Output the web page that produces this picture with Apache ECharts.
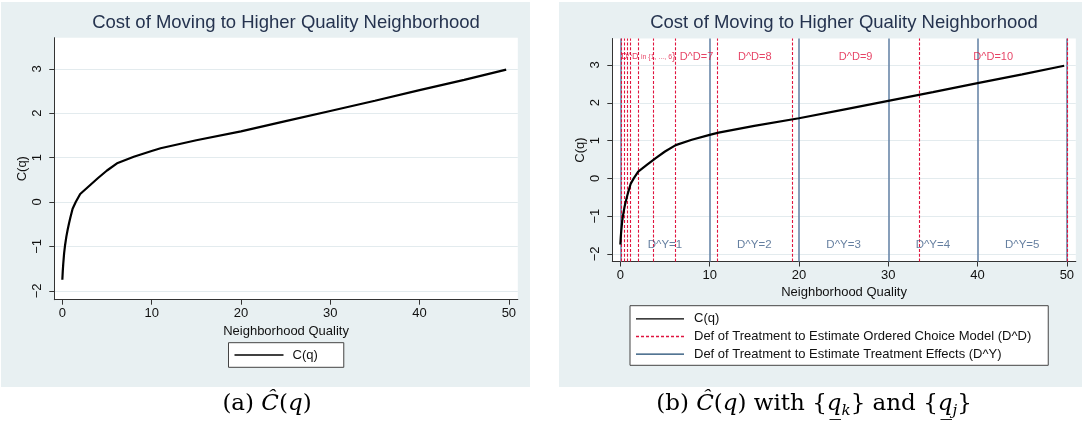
<!DOCTYPE html>
<html>
<head>
<meta charset="utf-8">
<script src="https://cdn.jsdelivr.net/npm/echarts@6/dist/echarts.min.js"></script>
<style>
  html, body { margin: 0; padding: 0; background: #ffffff; }
  #chart { width: 1088px; height: 436px; }
</style>
</head>
<body>
<div id="chart"></div>
<script>
// Estimated moving cost C(q) over neighborhood quality q
const qualityPoints = [0, 0.05, 0.1, 0.2, 0.3, 0.45, 0.6, 0.75, 0.9, 1.15, 1.5, 2.0, 3.0, 4.0, 5.0, 6.2, 8.0, 10.0, 11.0, 15.0, 20.0, 25.0, 30.0, 35.0, 40.0, 45.0, 49.7];
const costValues    = [-1.75, -1.55, -1.4, -1.15, -0.98, -0.78, -0.62, -0.48, -0.35, -0.15, 0.0, 0.18, 0.36, 0.54, 0.71, 0.88, 1.02, 1.15, 1.21, 1.39, 1.59, 1.82, 2.05, 2.28, 2.52, 2.75, 2.98];

// Cut points: ordered choice treatment (D^D) and treatment effect groups (D^Y)
const ddCuts = [0.15, 0.45, 0.75, 1.15, 1.95, 3.7, 6.15, 10.9, 19.2, 33.5, 50];
const dyCuts = [0, 10, 20, 30, 40, 50];
// each D^D label spans ddCuts[from]..ddCuts[to]
const ddLabelSpans = [[0, 6], [6, 7], [7, 8], [8, 9], [9, 10]];
const ddLabels = ['D^D in {1, ..., 6}', 'D^D=7', 'D^D=8', 'D^D=9', 'D^D=10'];
const dyLabels = ['D^Y=1', 'D^Y=2', 'D^Y=3', 'D^Y=4', 'D^Y=5'];

const xTicks = [0, 10, 20, 30, 40, 50];
const yTicks = [-2, -1, 0, 1, 2, 3];

const legendCost = 'C(q)';
const legendDD = 'Def of Treatment to Estimate Ordered Choice Model (D^D)';
const legendDY = 'Def of Treatment to Estimate Treatment Effects (D^Y)';
const titleText = 'Cost of Moving to Higher Quality Neighborhood';
const xName = 'Neighborhood Quality';
const yName = 'C(q)';

const SANS = '"Liberation Sans", Arial, Helvetica, sans-serif';
const SERIF = '"DejaVu Serif", "Liberation Serif", serif';
const PANEL_BG = '#e8f0f2';
const TITLE_COLOR = '#25334f';
const AXIS_COLOR = '#333333';
const TEXT_COLOR = '#111111';
const RED = '#e0143f';
const NAVY_LINE = '#6a87a9';
const NAVY_TEXT = '#3f5f88';

const costData = qualityPoints.map((q, i) => [q, costValues[i]]);
const mid = (a, b) => (a + b) / 2;
const ddLabelData = ddLabelSpans.map((s, i) => ({ name: ddLabels[i], value: [mid(ddCuts[s[0]], ddCuts[s[1]]), 3.22] }));
const dyLabelData = dyLabels.map((t, i) => ({ name: t, value: [mid(dyCuts[i], dyCuts[i + 1]), -1.75] }));

function solidIcon(w, t) { return 'path://M0 0h' + w + 'v' + t + 'h-' + w + 'z'; }
function dashIcon(w, dash, gap, t) {
  let d = '';
  for (let x = 0; x < w; x += dash + gap) {
    const len = Math.min(dash, w - x);
    d += 'M' + x + ' 0h' + len + 'v' + t + 'h-' + len + 'z';
  }
  return 'path://' + d;
}

function xAxisFor(gridIndex) {
  return {
    type: 'value', gridIndex: gridIndex, min: -0.9, max: 51,
    name: xName, nameLocation: 'middle', nameGap: 21,
    nameTextStyle: { fontFamily: SANS, fontSize: 13, color: TEXT_COLOR },
    axisLine: { show: true, onZero: false, lineStyle: { color: AXIS_COLOR, width: 1 } },
    axisTick: { show: true, length: 5, customValues: xTicks, lineStyle: { color: AXIS_COLOR } },
    axisLabel: { customValues: xTicks, margin: 7, fontFamily: SANS, fontSize: 13, color: TEXT_COLOR },
    splitLine: { show: false }
  };
}
function yAxisFor(gridIndex) {
  return {
    type: 'value', gridIndex: gridIndex, min: -2.2, max: 3.7,
    name: yName, nameLocation: 'middle', nameGap: 25, nameRotate: 90,
    nameTextStyle: { fontFamily: SANS, fontSize: 13, color: TEXT_COLOR },
    axisLine: { show: true, onZero: false, lineStyle: { color: AXIS_COLOR, width: 1 } },
    axisTick: { show: true, length: 5, customValues: yTicks, lineStyle: { color: AXIS_COLOR } },
    axisLabel: {
      customValues: yTicks, rotate: 90, margin: 10, fontFamily: SANS, fontSize: 13, color: TEXT_COLOR,
      formatter: v => String(v).replace('-', '\u2212')
    },
    splitLine: { show: true, lineStyle: { color: '#e3ebee', width: 1 } }
  };
}

const chart = echarts.init(document.getElementById('chart'), null, { renderer: 'canvas' });

chart.setOption({
  animation: false,
  backgroundColor: '#ffffff',
  grid: [
    { left: 54.3, top: 37.7, width: 463.5, height: 262, show: true, backgroundColor: '#ffffff', borderWidth: 0 },
    { left: 612.3, top: 38.5, width: 463.5, height: 223, show: true, backgroundColor: '#ffffff', borderWidth: 0 }
  ],
  xAxis: [xAxisFor(0), xAxisFor(1)],
  yAxis: [yAxisFor(0), yAxisFor(1)],
  legend: [
    {
      data: [{ name: legendCost, icon: solidIcon(49, 1.3) }],
      left: 228.5, top: 342.7, orient: 'vertical', selectedMode: false,
      itemWidth: 49, itemHeight: 14, padding: [5.8, 26, 5.8, 6],
      backgroundColor: '#ffffff', borderColor: '#444444', borderWidth: 1, borderRadius: 0,
      itemStyle: { borderWidth: 0 },
      textStyle: { fontFamily: SANS, fontSize: 13, color: TEXT_COLOR, padding: [0, 0, 0, 4] }
    },
    {
      data: [
        { name: legendCost, icon: solidIcon(48, 1.3) },
        { name: legendDD, icon: dashIcon(48, 3, 2, 1.3) },
        { name: legendDY, icon: solidIcon(48, 1.3) }
      ],
      left: 630, top: 305.7, orient: 'vertical', align: 'left', selectedMode: false,
      itemWidth: 48, itemHeight: 14, itemGap: 4.7, padding: [6.6, 17, 4.6, 6],
      backgroundColor: '#ffffff', borderColor: '#444444', borderWidth: 1, borderRadius: 0,
      itemStyle: { borderWidth: 0 },
      textStyle: { fontFamily: SANS, fontSize: 13, color: TEXT_COLOR, padding: [0, 0, 0, 5] }
    }
  ],
  series: [
    {
      name: legendCost, type: 'line', xAxisIndex: 0, yAxisIndex: 0, data: costData,
      symbol: 'none', color: '#000000', lineStyle: { color: '#000000', width: 2.2 }, z: 5
    },
    {
      name: legendDY, type: 'line', xAxisIndex: 1, yAxisIndex: 1, data: [],
      symbol: 'none', color: '#1a476f', lineStyle: { color: '#1a476f', width: 1 }, z: 2,
      markLine: {
        silent: true, symbol: ['none', 'none'], label: { show: false },
        lineStyle: { color: NAVY_LINE, width: 1.6, type: 'solid' },
        data: dyCuts.map(v => ({ xAxis: v }))
      }
    },
    {
      name: legendDD, type: 'line', xAxisIndex: 1, yAxisIndex: 1, data: [],
      symbol: 'none', color: RED, lineStyle: { color: RED, width: 1, type: [3, 2] }, z: 3,
      markLine: {
        silent: true, symbol: ['none', 'none'], label: { show: false },
        lineStyle: { color: RED, width: 1.1, type: [3, 1.8] },
        data: ddCuts.map(v => ({ xAxis: v }))
      }
    },
    {
      name: legendCost, type: 'line', xAxisIndex: 1, yAxisIndex: 1, data: costData,
      symbol: 'none', color: '#000000', lineStyle: { color: '#000000', width: 2.2 }, z: 5
    },
    {
      name: 'ddText', type: 'scatter', xAxisIndex: 1, yAxisIndex: 1, data: ddLabelData,
      symbolSize: 1, itemStyle: { color: 'transparent' }, silent: true, z: 6,
      label: {
        show: true, position: 'inside', color: RED, fontFamily: SANS, fontSize: 11,
        formatter: p => p.dataIndex === 0 ? '{a|D^D }{b|in {1, ..., 6}}' : p.name,
        rich: {
          a: { fontFamily: SANS, fontSize: 9, color: RED },
          b: { fontFamily: SANS, fontSize: 7, color: RED }
        }
      }
    },
    {
      name: 'dyText', type: 'scatter', xAxisIndex: 1, yAxisIndex: 1, data: dyLabelData,
      symbolSize: 1, itemStyle: { color: 'transparent' }, silent: true, z: 6,
      label: { show: true, position: 'inside', color: NAVY_TEXT, fontFamily: SANS, fontSize: 11.5, formatter: p => p.name }
    }
  ],
  graphic: [
    { type: 'rect', z: -10, silent: true, shape: { x: 1, y: 2, width: 529, height: 385 }, style: { fill: PANEL_BG } },
    { type: 'rect', z: -10, silent: true, shape: { x: 559, y: 2, width: 523, height: 385 }, style: { fill: PANEL_BG } },
    { type: 'text', silent: true, x: 286, y: 23,
      style: { text: titleText, fill: TITLE_COLOR, fontFamily: SANS, fontSize: 18.5, align: 'center', verticalAlign: 'middle' } },
    { type: 'text', silent: true, x: 844, y: 23,
      style: { text: titleText, fill: TITLE_COLOR, fontFamily: SANS, fontSize: 18.5, align: 'center', verticalAlign: 'middle' } },
    { type: 'text', silent: true, x: 267, y: 404,
      style: {
        text: '(a) {i|\u0108}({i|q})', fill: '#000000', fontFamily: SERIF, fontSize: 23, lineHeight: 30,
        align: 'center', verticalAlign: 'middle',
        rich: { i: { fontFamily: SERIF, fontSize: 23, fontStyle: 'italic', lineHeight: 30 } }
      } },
    { type: 'text', silent: true, x: 814, y: 404,
      style: {
        text: '(b) {i|\u0108}({i|q}) with {{i|q\u0332}{s|k}} and {{i|q\u0332}{s|j}}',
        fill: '#000000', fontFamily: SERIF, fontSize: 23, lineHeight: 30,
        align: 'center', verticalAlign: 'middle',
        rich: {
          i: { fontFamily: SERIF, fontSize: 23, fontStyle: 'italic', lineHeight: 30 },
          s: { fontFamily: SERIF, fontSize: 15, fontStyle: 'italic', lineHeight: 15, verticalAlign: 'bottom' }
        }
      } }
  ]
});
</script>
</body>
</html>
